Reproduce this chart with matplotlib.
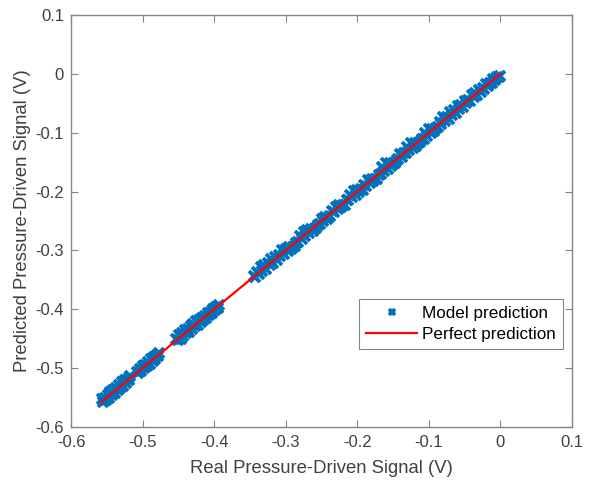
import matplotlib
matplotlib.use("Agg")
import matplotlib.pyplot as plt

# real vs predicted signal (V)
# upper edge of the scatter band
real_signal = [
    -0.557, -0.553, -0.549, -0.545, -0.541, -0.537, -0.533, -0.529, -0.525, -0.521, -0.518,
    -0.508, -0.504, -0.500, -0.496, -0.492, -0.488, -0.484, -0.480, -0.477,
    -0.453, -0.449, -0.445, -0.441, -0.437, -0.433, -0.429, -0.425, -0.421, -0.417,
    -0.413, -0.409, -0.405, -0.401, -0.397, -0.393,
    -0.345, -0.340, -0.335, -0.330, -0.325, -0.320, -0.315, -0.310, -0.305, -0.300,
    -0.295, -0.290, -0.285, -0.280, -0.275, -0.270, -0.265, -0.260, -0.255, -0.250,
    -0.245, -0.240, -0.235, -0.230, -0.225, -0.220, -0.215, -0.210, -0.205, -0.200,
    -0.195, -0.190, -0.185, -0.180, -0.175, -0.170, -0.165, -0.160, -0.155, -0.150,
    -0.145, -0.140, -0.135, -0.130, -0.125, -0.120, -0.115, -0.110, -0.105, -0.100,
    -0.095, -0.090, -0.085, -0.080, -0.075, -0.070, -0.065, -0.060, -0.055, -0.050,
    -0.045, -0.040, -0.035, -0.030, -0.025, -0.020, -0.015, -0.010, -0.005, 0.000,
]
predicted_signal = [
    -0.553, -0.551, -0.546, -0.541, -0.538, -0.534, -0.529, -0.524, -0.521, -0.518, -0.514,
    -0.506, -0.501, -0.497, -0.494, -0.489, -0.484, -0.481, -0.477, -0.474,
    -0.450, -0.444, -0.440, -0.435, -0.433, -0.428, -0.425, -0.420, -0.419, -0.415,
    -0.412, -0.407, -0.404, -0.400, -0.396, -0.393,
    -0.343, -0.336, -0.329, -0.325, -0.322, -0.314, -0.311, -0.308, -0.300, -0.297,
    -0.295, -0.294, -0.287, -0.276, -0.268, -0.265, -0.263, -0.263, -0.257, -0.247,
    -0.244, -0.243, -0.233, -0.226, -0.223, -0.222, -0.214, -0.206, -0.199, -0.197,
    -0.196, -0.188, -0.180, -0.178, -0.179, -0.172, -0.159, -0.152, -0.151, -0.153,
    -0.146, -0.137, -0.134, -0.124, -0.118, -0.118, -0.118, -0.111, -0.100, -0.093,
    -0.093, -0.092, -0.081, -0.074, -0.073, -0.065, -0.062, -0.054, -0.053, -0.046,
    -0.044, -0.036, -0.033, -0.027, -0.024, -0.018, -0.015, -0.008, -0.006, -0.003,
]
# lower edge of the scatter band
real_signal_low = [
    -0.555, -0.551, -0.547, -0.543, -0.539, -0.535, -0.531, -0.527, -0.523, -0.519,
    -0.506, -0.502, -0.498, -0.494, -0.490, -0.486, -0.482, -0.478,
    -0.451, -0.447, -0.443, -0.439, -0.435, -0.431, -0.427, -0.423, -0.419, -0.415,
    -0.411, -0.407, -0.403, -0.399, -0.395,
    -0.3425, -0.3375, -0.3325, -0.3275, -0.3225, -0.3175, -0.3125, -0.3075, -0.3025,
    -0.2975, -0.2925, -0.2875, -0.2825, -0.2775, -0.2725, -0.2675, -0.2625, -0.2575,
    -0.2525, -0.2475, -0.2425, -0.2375, -0.2325, -0.2275, -0.2225, -0.2175, -0.2125,
    -0.2075, -0.2025, -0.1975, -0.1925, -0.1875, -0.1825, -0.1775, -0.1725, -0.1675,
    -0.1625, -0.1575, -0.1525, -0.1475, -0.1425, -0.1375, -0.1325, -0.1275, -0.1225,
    -0.1175, -0.1125, -0.1075, -0.1025, -0.0975, -0.0925, -0.0875, -0.0825, -0.0775,
    -0.0725, -0.0675, -0.0625, -0.0575, -0.0525, -0.0475, -0.0425, -0.0375, -0.0325,
    -0.0275, -0.0225, -0.0175, -0.0125, -0.0075, -0.0025,
]
predicted_signal_low = [
    -0.558, -0.554, -0.550, -0.545, -0.542, -0.538, -0.533, -0.530, -0.526, -0.521,
    -0.509, -0.505, -0.500, -0.497, -0.493, -0.488, -0.485, -0.480,
    -0.453, -0.450, -0.446, -0.441, -0.438, -0.434, -0.429, -0.426, -0.422, -0.418,
    -0.414, -0.409, -0.406, -0.401, -0.398,
    -0.346, -0.340, -0.335, -0.331, -0.325, -0.321, -0.316, -0.310, -0.306,
    -0.301, -0.297, -0.292, -0.285, -0.280, -0.275, -0.271, -0.267, -0.262,
    -0.255, -0.250, -0.246, -0.242, -0.235, -0.230, -0.226, -0.222, -0.215,
    -0.210, -0.205, -0.201, -0.197, -0.190, -0.185, -0.182, -0.178, -0.171,
    -0.165, -0.161, -0.157, -0.151, -0.145, -0.141, -0.135, -0.130, -0.126,
    -0.122, -0.116, -0.110, -0.105, -0.101, -0.097, -0.090, -0.085, -0.080,
    -0.076, -0.070, -0.066, -0.060, -0.056, -0.050, -0.046, -0.040, -0.036,
    -0.030, -0.026, -0.020, -0.016, -0.010, -0.006,
]
perfect_x = [-0.558, 0.0]
perfect_y = [-0.558, 0.0]

x_ticks = [-0.6, -0.5, -0.4, -0.3, -0.2, -0.1, 0, 0.1]
y_ticks = [-0.6, -0.5, -0.4, -0.3, -0.2, -0.1, 0, 0.1]
tick_labels = ["-0.6", "-0.5", "-0.4", "-0.3", "-0.2", "-0.1", "0", "0.1"]

plt.rcParams['font.family'] = ['Liberation Sans', 'DejaVu Sans']
grey = "#858585"
text_grey = "#404040"
blue = "#0072BD"

fig = plt.figure(figsize=(6.05, 4.84), dpi=100)
ax = fig.add_axes([0.1174, 0.1178, 0.8281, 0.8512])

ax.plot(real_signal + real_signal_low, predicted_signal + predicted_signal_low,
        linestyle='none', marker='x', color=blue,
        markersize=7, markeredgewidth=2.7, label='Model prediction')
ax.plot(perfect_x, perfect_y, color='#FF0000', linewidth=1.6, label='Perfect prediction')

ax.set_xlim(-0.6, 0.1)
ax.set_ylim(-0.6, 0.1)
ax.set_xticks(x_ticks)
ax.set_xticklabels(tick_labels)
ax.set_yticks(y_ticks)
ax.set_yticklabels(tick_labels)
ax.tick_params(direction='in', length=5, width=0.8, color=grey, labelcolor=text_grey,
               labelsize=12, top=True, right=True)
ax.tick_params(axis='x', pad=6)
ax.tick_params(axis='y', pad=5)
for sp in ax.spines.values():
    sp.set_color(grey)
    sp.set_linewidth(1.0)

ax.set_xlabel("Real Pressure-Driven Signal (V)", fontsize=13.3, color=text_grey, labelpad=7)
ax.set_ylabel("Predicted Pressure-Driven Signal (V)", fontsize=13.3, color=text_grey, labelpad=3)

leg = ax.legend(loc='upper right', bbox_to_anchor=(0.982, 0.311), fontsize=12.3,
                fancybox=False, framealpha=1, edgecolor=grey, handlelength=3.0,
                borderaxespad=0, borderpad=0.4, labelspacing=0.35, handletextpad=0.3)
leg.get_frame().set_linewidth(0.8)
for t in leg.get_texts():
    t.set_color('#000000')
leg.legend_handles[0].set_markersize(5)

fig.savefig("out.png", dpi=100)
